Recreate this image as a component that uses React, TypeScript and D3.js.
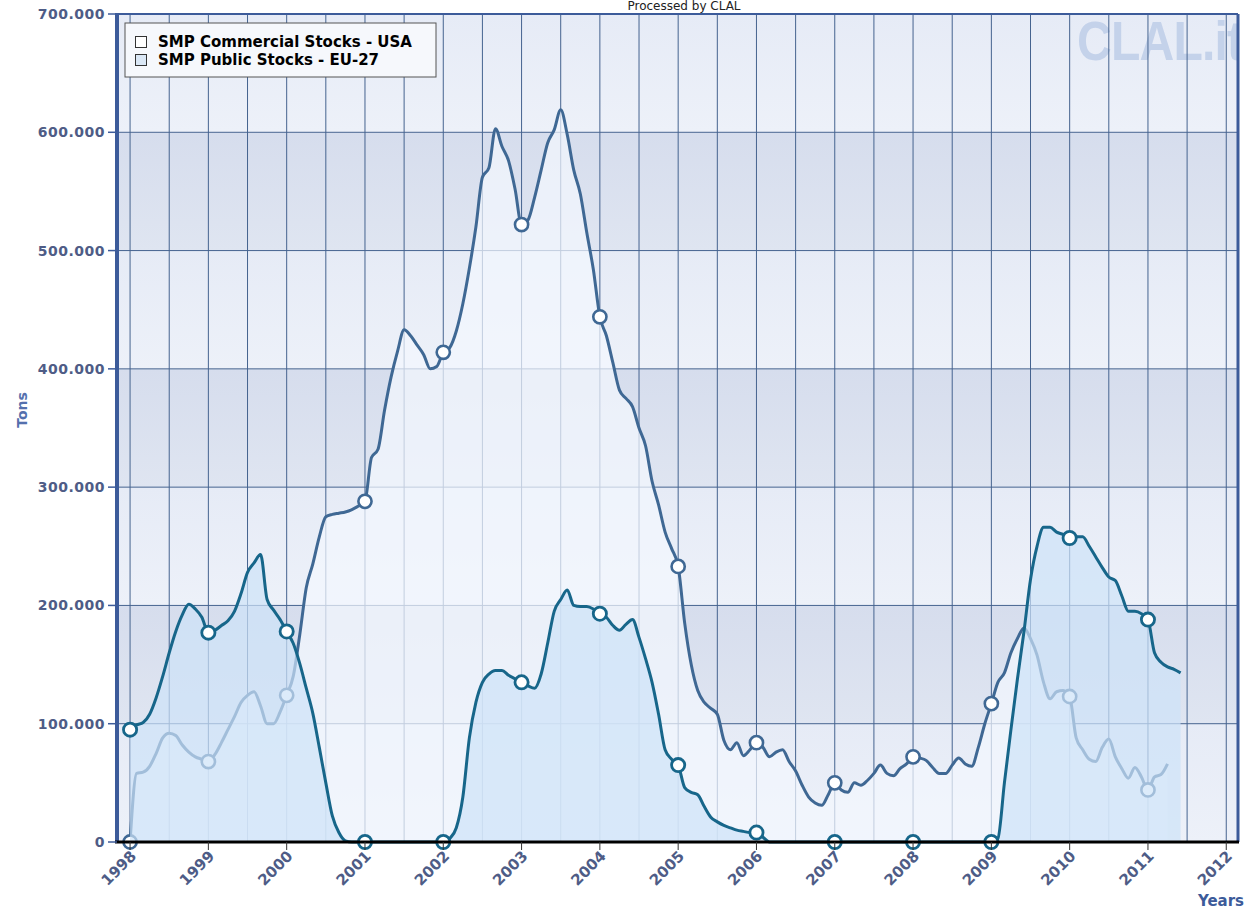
import React from 'react';
import * as d3 from 'd3';

// Monthly values (thousand tons) starting January 1998
const usaStocks = [
  0, 58, 59, 64, 75, 88, 92, 90, 82, 76, 72, 70,
  68, 74, 84, 95, 106, 118, 124, 127, 115, 100, 100, 110,
  124, 140, 175, 215, 235, 258, 275, 277, 278, 279, 281, 284,
  288, 325, 332, 365, 393, 415, 433, 428, 420, 412, 400, 402,
  414, 418, 432, 455, 485, 520, 562, 570, 603, 588, 576, 552,
  522, 526, 545, 568, 591, 602, 619, 598, 568, 548, 515, 484,
  444, 428, 405, 382, 375, 368, 350, 335, 305, 285, 262, 248,
  233, 185, 150, 128, 118, 113, 108, 86, 78, 84, 73, 78,
  84, 80, 72, 76, 78, 68, 60, 48, 38, 33, 31, 40,
  50, 44, 42, 50, 48, 52, 58, 65, 58, 56, 62, 66,
  72, 71, 69, 63, 58, 58, 65, 71, 66, 64, 80, 100,
  117, 135, 143, 160, 172, 181, 172, 158, 135, 121, 127, 128,
  123, 88, 78, 70, 68, 80, 87, 72, 62, 54, 63, 55,
  44, 55, 57, 66,
];

const euStocks = [
  95, 99, 101, 108, 122, 140, 160, 178, 192, 201, 197, 190,
  177, 179, 183, 187, 195, 210, 228, 236, 243, 205, 196, 188,
  178, 168, 151, 130, 109, 80, 50, 22, 8, 1, 0, 0,
  0, 0, 0, 0, 0, 0, 0, 0, 0, 0, 0, 0,
  0, 3, 12, 38, 88, 118, 135, 142, 145, 145, 141, 138,
  135, 132, 130, 142, 168, 195, 205, 213, 200, 199, 199, 197,
  193, 190, 183, 179, 184, 188, 173, 155, 135, 108, 78, 70,
  65, 46, 42, 40, 30, 21, 17, 14, 12, 10, 9, 8,
  8, 4, 0, 0, 0, 0, 0, 0, 0, 0, 0, 0,
  0, 0, 0, 0, 0, 0, 0, 0, 0, 0, 0, 0,
  0, 0, 0, 0, 0, 0, 0, 0, 0, 0, 0, 0,
  0, 3, 50, 95, 138, 178, 222, 250, 266, 266, 262, 260,
  257, 258, 258, 250, 241, 232, 224, 221, 208, 195, 195, 193,
  188, 160, 152, 148, 146, 143,
];

const yearTicks = [1998, 1999, 2000, 2001, 2002, 2003, 2004, 2005, 2006, 2007, 2008, 2009, 2010, 2011, 2012];
const yTicks = [0, 100, 200, 300, 400, 500, 600, 700];
const seriesNames = ['SMP Commercial Stocks - USA', 'SMP Public Stocks - EU-27'];

const FONT = '"DejaVu Sans", Verdana, sans-serif';
const USA_COLOR = '#3f6894';
const EU_COLOR = '#17668a';

const locale = d3.formatLocale({ decimal: ',', thousands: '.', grouping: [3], currency: ['', ''] });
const fmt = locale.format(',');

export default function App() {
  const left = 117, right = 1238, top = 14, bottom = 842;
  const x = d3.scaleLinear().domain([1997.833, 2012.15]).range([left, right]);
  const y = d3.scaleLinear().domain([0, 700]).range([bottom, top]);

  const toPts = (arr: number[]) => arr.map((v, i) => ({ t: 1998 + i / 12, v }));
  const usa = toPts(usaStocks);
  const eu = toPts(euStocks);

  const line = d3.line<{ t: number; v: number }>().x(d => x(d.t)).y(d => y(d.v)).curve(d3.curveMonotoneX);
  const area = d3.area<{ t: number; v: number }>().x(d => x(d.t)).y0(y(0)).y1(d => y(d.v)).curve(d3.curveMonotoneX);

  const halfYears: number[] = [];
  for (let t = 1998; t <= 2012.01; t += 0.5) halfYears.push(t);

  const bands = [];
  for (let i = 0; i < 7; i++) bands.push({ lo: i * 100, hi: (i + 1) * 100, dark: i % 2 === 1 });

  const usaMarkers = usa.filter((_, i) => i % 12 === 0);
  const euMarkers = eu.filter((_, i) => i % 12 === 0);

  return (
    <svg width={1246} height={910} style={{ position: 'absolute', left: 0, top: 0, background: '#fff' }} fontFamily={FONT}>
      <defs>
        <clipPath id="plotClip">
          <rect x={left} y={top} width={right - left} height={bottom - top} />
        </clipPath>
        <linearGradient id="darkBand" x1="0" y1="0" x2="0" y2="1">
          <stop offset="0" stopColor="#d6dded" />
          <stop offset="1" stopColor="#dfe5f1" />
        </linearGradient>
        <linearGradient id="lightBand" x1="0" y1="0" x2="0" y2="1">
          <stop offset="0" stopColor="#e6ebf6" />
          <stop offset="1" stopColor="#edf1f9" />
        </linearGradient>
      </defs>

      <text x={684} y={10} textAnchor="middle" fontSize={12} fill="#222">Processed by CLAL</text>

      {bands.map(b => (
        <rect key={b.lo} x={left} y={y(b.hi)} width={right - left} height={y(b.lo) - y(b.hi)}
          fill={b.dark ? 'url(#darkBand)' : 'url(#lightBand)'} />
      ))}

      <g clipPath="url(#plotClip)">
        <text x={1077} y={60} fontSize={56} fontWeight="bold" fill="#c4d2ea" fontFamily='"Liberation Sans", Arial, sans-serif'
          transform="translate(1077,0) scale(0.86,1) translate(-1077,0)" letterSpacing={-1}>CLAL.it</text>
      </g>

      {halfYears.map(t => (
        <line key={t} x1={x(t)} x2={x(t)} y1={top} y2={bottom} stroke="#45638f" strokeWidth={1} />
      ))}
      {yTicks.slice(1, -1).map(v => (
        <line key={v} x1={left} x2={right} y1={y(v)} y2={y(v)} stroke="#45638f" strokeWidth={1} />
      ))}

      <path d={area(usa) || ''} fill="#f3f7fd" fillOpacity={0.72} />
      <path d={line(usa) || ''} fill="none" stroke={USA_COLOR} strokeWidth={3} />
      {usaMarkers.map(d => (
        <circle key={d.t} cx={x(d.t)} cy={y(d.v)} r={6.6} fill="#fff" stroke={USA_COLOR} strokeWidth={2.6} />
      ))}

      <path d={area(eu) || ''} fill="#cde2f8" fillOpacity={0.7} />
      <path d={line(eu) || ''} fill="none" stroke={EU_COLOR} strokeWidth={3} />
      {euMarkers.map(d => (
        <circle key={d.t} cx={x(d.t)} cy={y(d.v)} r={6.6} fill="#fff" stroke={EU_COLOR} strokeWidth={2.8} />
      ))}

      {/* borders */}
      <line x1={left} x2={right} y1={top} y2={top} stroke="#3c5b9a" strokeWidth={2} />
      <line x1={right} x2={right} y1={top} y2={bottom} stroke="#3c5b9a" strokeWidth={3} />
      <line x1={left} x2={left} y1={top - 1} y2={bottom} stroke="#3c5b9a" strokeWidth={4} />
      <line x1={left - 2} x2={right + 1} y1={bottom} y2={bottom} stroke="#000" strokeWidth={3} />

      {/* y axis */}
      {yTicks.map(v => (
        <g key={v}>
          <line x1={108} x2={left} y1={y(v)} y2={y(v)} stroke="#3c5b9a" strokeWidth={1.5} />
          <text x={105} y={y(v) + 5} textAnchor="end" fontSize={14} fontWeight="bold" fill="#4e5c86" letterSpacing={0.5}>
            {fmt(v * 1000)}
          </text>
        </g>
      ))}
      <text transform={`translate(27,410) rotate(-90)`} textAnchor="middle" fontSize={14} fontWeight="bold" fill="#5470ad">Tons</text>

      {/* x axis */}
      {yearTicks.map(t => (
        <g key={t}>
          <line x1={x(t)} x2={x(t)} y1={bottom} y2={bottom + 8} stroke="#333" strokeWidth={1} />
          <text transform={`translate(${x(t) + 7},${bottom + 15}) rotate(-45)`} textAnchor="end" fontSize={15}
            fontWeight="bold" fill="#4e5c86">{t}</text>
        </g>
      ))}
      <text x={1244} y={906} textAnchor="end" fontSize={15} fontWeight="bold" fill="#3c5b9a">Years</text>

      {/* legend */}
      <rect x={125} y={23} width={311} height={54} fill="#f6f8fc" stroke="#555" strokeWidth={1} />
      {seriesNames.map((n, i) => (
        <g key={n}>
          <rect x={135.5} y={36.5 + i * 18} width={11} height={11} fill={i === 0 ? '#fff' : '#dae7f5'} stroke="#333" strokeWidth={1} />
          <text x={158} y={47 + i * 18} fontSize={15} fontWeight="bold" fill="#000">{n}</text>
        </g>
      ))}
    </svg>
  );
}
